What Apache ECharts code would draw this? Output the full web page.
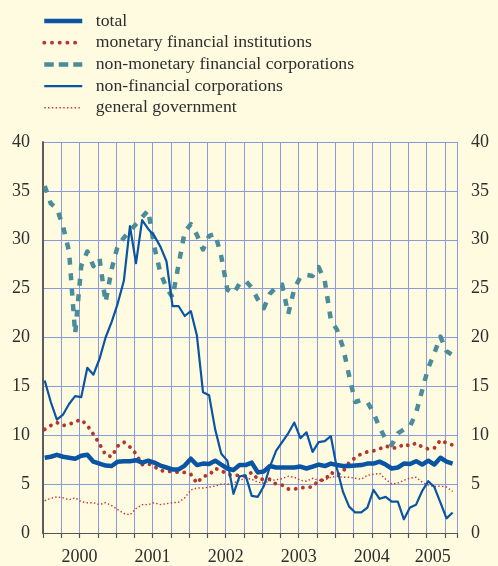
<!DOCTYPE html>
<html>
<head>
<meta charset="utf-8">
<script src="https://cdn.jsdelivr.net/npm/echarts@6/dist/echarts.min.js"></script>
<style>
html,body{margin:0;padding:0;background:#fffbe0;}
#chart{width:498px;height:566px;}
</style>
</head>
<body>
<div id="chart"></div>
<script>
// Monthly observations, January 2000 to August 2005 (annual growth rates, %)
const seriesNames = [
  'total',
  'monetary financial institutions',
  'non-monetary financial corporations',
  'non-financial corporations',
  'general government'
];
const yearLabels = ['2000', '2001', '2002', '2003', '2004', '2005'];
const yTicks = [0, 5, 10, 15, 20, 25, 30, 35, 40];

const total = [7.7, 7.8, 8.0, 7.8, 7.7, 7.6, 7.9, 8.0, 7.3, 7.1, 6.9, 6.85,
  7.3, 7.35, 7.35, 7.45, 7.2, 7.4, 7.2, 6.9, 6.7, 6.5, 6.5, 6.9,
  7.6, 6.95, 7.1, 7.05, 7.4, 7.0, 6.6, 6.45, 6.95, 6.95, 7.2, 6.2,
  6.3, 6.85, 6.7, 6.7, 6.7, 6.7, 6.8, 6.6, 6.8, 7.0, 6.85, 7.1,
  6.95, 6.85, 6.85, 6.9, 6.95, 7.1, 7.1, 7.3, 7.0, 6.6, 6.7, 7.1,
  7.05, 7.35, 7.0, 7.4, 7.0, 7.7, 7.3, 7.1];

const mfi = [10.6, 11.0, 11.3, 11.0, 11.1, 11.4, 11.6, 11.0, 10.1, 9.1, 8.0, 7.8,
  8.9, 9.3, 8.8, 8.1, 7.0, 7.1, 6.8, 6.4, 6.3, 6.3, 6.2, 6.2,
  6.0, 5.1, 5.8, 5.9, 6.6, 6.4, 6.0, 5.9, 5.9, 5.8, 6.2, 5.5,
  5.5, 5.5, 5.0, 4.9, 4.5, 4.5, 4.6, 4.7, 4.7, 5.4, 5.4, 6.2,
  5.9, 6.3, 7.2, 7.7, 8.1, 8.3, 8.4, 8.6, 8.9, 8.7, 8.7, 9.1,
  8.9, 9.2, 8.8, 8.6, 8.7, 9.5, 9.2, 9.0];

const nmfc = [35.5, 33.7, 33.2, 31.4, 28.8, 20.4, 27.3, 28.8, 27.3, 28.1, 23.6, 27.0,
  29.4, 30.2, 30.9, 31.6, 32.3, 33.0, 29.3, 26.6, 25.1, 24.1, 27.5, 30.8,
  31.6, 30.5, 29.0, 30.4, 30.6, 28.3, 24.9, 24.5, 25.5, 25.8, 25.1, 23.9,
  23.0, 24.5, 25.1, 25.4, 22.4, 25.0, 26.2, 26.4, 26.3, 27.2, 25.8, 21.8,
  20.8, 19.0, 16.1, 13.4, 13.6, 13.4, 12.3, 10.8, 9.6, 9.0, 10.2, 10.6,
  10.9, 12.3, 14.6, 16.9, 18.4, 20.1, 18.6, 18.2];

const nfc = [15.6, 13.4, 11.6, 12.1, 13.2, 14.0, 13.9, 16.9, 16.2, 17.8, 20.0, 21.6,
  23.5, 25.8, 31.4, 27.6, 32.0, 31.1, 30.4, 29.3, 27.8, 23.2, 23.2, 22.2,
  22.7, 20.2, 14.4, 14.1, 10.6, 8.1, 7.4, 4.0, 5.8, 5.9, 3.8, 3.7,
  4.8, 6.8, 8.4, 9.3, 10.2, 11.3, 9.7, 10.3, 8.3, 9.3, 9.4, 9.9,
  6.6, 4.2, 2.7, 2.1, 2.1, 2.6, 4.4, 3.5, 3.7, 3.2, 3.2, 1.4,
  2.6, 2.9, 4.3, 5.3, 4.7, 3.1, 1.5, 2.1];

const gg = [3.3, 3.55, 3.7, 3.6, 3.4, 3.6, 3.2, 3.1, 3.1, 2.9, 3.1, 2.8,
  2.4, 2.0, 1.85, 2.5, 2.9, 2.9, 3.1, 2.9, 3.0, 3.1, 3.15, 3.6,
  4.4, 4.6, 4.6, 4.7, 4.8, 5.0, 5.0, 5.1, 5.4, 5.6, 5.5, 5.2,
  5.1, 5.35, 5.45, 5.55, 5.8, 5.7, 5.4, 5.3, 5.6, 5.4, 5.4, 5.7,
  5.8, 5.7, 5.7, 5.6, 5.5, 5.9, 6.0, 6.1, 5.5, 5.0, 5.1, 5.4,
  5.6, 5.7, 5.2, 4.9, 4.75, 4.8, 4.7, 4.25];

const MONTHS = 68;          // axis spans Jan 2000 .. Aug 2005
const POS = 0.28;           // observation position inside its month
const toPoints = arr => arr.map((v, i) => [i + POS, v]);

// year label positions: centre of the visible part of each year
const yearCentres = yearLabels.map((y, k) => (12 * k + Math.min(12 * k + 12, MONTHS)) / 2);

const FONT = 'Liberation Serif';
const TXT = '#2e2e2e';
const BLUE = '#0a55a3';
const RED = '#b3362f';
const TEAL = '#4a8c9a';
const RED2 = '#c8322c';
const GRID = '#8a9ade';

const styles = {
  'total': {color: BLUE, width: 4.5, type: 'solid', cap: 'butt', legendType: 'solid'},
  'monetary financial institutions': {color: RED, width: 3.8, type: [0.1, 7.2], cap: 'round', legendType: [0.1, 7.6]},
  'non-monetary financial corporations': {color: TEAL, width: 4.5, type: [7, 8.5], cap: 'butt', legendType: [9.5, 5]},
  'non-financial corporations': {color: BLUE, width: 2.2, type: 'solid', cap: 'butt', legendType: 'solid'},
  'general government': {color: RED2, width: 1.4, type: [1.4, 2.3], cap: 'butt', legendType: [1.4, 2.4]}
};
const dataMap = {
  'total': total,
  'monetary financial institutions': mfi,
  'non-monetary financial corporations': nmfc,
  'non-financial corporations': nfc,
  'general government': gg
};

const drawOrder = [
  'general government',
  'non-monetary financial corporations',
  'monetary financial institutions',
  'non-financial corporations',
  'total'
];

const chart = echarts.init(document.getElementById('chart'), null, {renderer: 'canvas'});

const option = {
  backgroundColor: '#fffbe0',
  animation: false,
  legend: {
    orient: 'vertical',
    left: 37,
    top: 7,
    itemWidth: 38,
    itemHeight: 14,
    itemGap: 3.7,
    selectedMode: false,
    textStyle: {fontFamily: FONT, fontSize: 17.7, color: TXT, lineHeight: 18, padding: [0, 0, 0, 8.5]},
    data: seriesNames.map(n => ({
      name: n,
      itemStyle: {color: 'rgba(0,0,0,0)', borderWidth: 0, opacity: 0},
      lineStyle: {color: styles[n].color, width: styles[n].width, type: styles[n].legendType, cap: styles[n].cap, opacity: 1}
    }))
  },
  grid: {left: 43, right: 41, top: 142, bottom: 29, containLabel: false},
  xAxis: [
    {
      type: 'value', min: 0, max: MONTHS, interval: 3,
      offset: 3,
      axisLine: {show: true, lineStyle: {color: '#555', width: 1.2}},
      axisTick: {show: true, length: 5, inside: false, lineStyle: {color: '#555', width: 1.2}},
      axisLabel: {show: false},
      splitLine: {show: true, lineStyle: {color: GRID, width: 1}}
    },
    {
      type: 'value', min: 0, max: MONTHS, position: 'bottom', offset: 3,
      axisLine: {show: false}, axisTick: {show: false}, splitLine: {show: false},
      axisLabel: {
        show: true, margin: 12, customValues: yearCentres,
        fontFamily: FONT, fontSize: 18, color: TXT,
        formatter: v => {
          const k = yearCentres.findIndex(c => Math.abs(c - v) < 0.01);
          return k >= 0 ? yearLabels[k] : '';
        }
      }
    }
  ],
  yAxis: [
    {
      type: 'value', min: yTicks[0], max: yTicks[yTicks.length - 1], interval: 5, position: 'left',
      axisLine: {show: true, lineStyle: {color: '#666', width: 1.6}},
      axisTick: {show: false},
      axisLabel: {fontFamily: FONT, fontSize: 18, color: TXT, margin: 13},
      splitLine: {show: true, lineStyle: {color: GRID, width: 1}}
    },
    {
      type: 'value', min: yTicks[0], max: yTicks[yTicks.length - 1], interval: 5, position: 'right',
      axisLine: {show: true, lineStyle: {color: '#555', width: 1.6}},
      axisTick: {show: false},
      axisLabel: {fontFamily: FONT, fontSize: 18, color: TXT, margin: 14},
      splitLine: {show: false}
    }
  ],
  series: drawOrder.map(n => ({
    name: n,
    type: 'line',
    xAxisIndex: 0,
    yAxisIndex: 0,
    symbol: 'none',
    silent: true,
    lineStyle: {color: styles[n].color, width: styles[n].width, type: styles[n].type, cap: styles[n].cap, join: 'round'},
    itemStyle: {color: styles[n].color},
    data: toPoints(dataMap[n])
  }))
};

chart.setOption(option);
</script>
</body>
</html>
